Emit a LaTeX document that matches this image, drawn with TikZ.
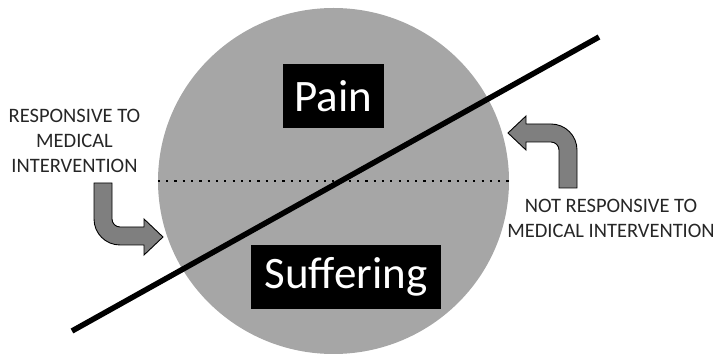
\documentclass[tikz,border=0pt]{standalone}
\usepackage{fontspec}
\setmainfont{Carlito}
\usetikzlibrary{shapes.geometric}
\definecolor{circgray}{HTML}{A6A6A6}
\definecolor{arrowgray}{HTML}{7F7F7F}

\begin{document}
\begin{tikzpicture}[x=1pt, y=-1pt,
    termbox/.style={rectangle, fill=black, text=white, inner sep=0pt, minimum height=64pt, font=\fontsize{45}{50}\selectfont},
    sidelabel/.style={align=center, inner sep=0pt, text=black!85, font=\fontsize{20.5}{25}\selectfont},
    bentarrow/.style={draw=black, line width=0.9pt, fill=arrowgray, line join=miter}]
  \useasboundingbox (0,0) rectangle (718,355);

  % Nodes
  \node[ellipse, fill=circgray, inner sep=0pt, minimum width=351pt, minimum height=346pt] (circ) at (333.5,181) {};
  \node[termbox, minimum width=101pt] (pain) at (333.5,96) {Pain};
  \node[termbox, minimum width=190pt] (suff) at (346,277) {Suffering};
  \node[sidelabel] (resp) at (74.5,141) {RESPONSIVE TO\\MEDICAL\\INTERVENTION};
  \node[sidelabel] (notresp) at (611,218) {NOT RESPONSIVE TO\\MEDICAL INTERVENTION};
  \coordinate (lo) at (72,331);
  \coordinate (hi) at (599,37);

  % Edges
  \draw[line width=2.2pt, dash pattern=on 2.2pt off 6.1pt] (circ.west) -- (circ.east);
  \draw[line width=5.5pt] (lo) -- (hi);

  % Bent arrows
  \filldraw[bentarrow] (94,183) -- (112,183) -- (112,219) arc[start angle=180, end angle=90, radius=8]
    -- (144,227) -- (144,219) -- (163,237) -- (144,255) -- (144,245) -- (120,245)
    arc[start angle=90, end angle=180, radius=26] -- cycle;
  \filldraw[bentarrow] (577,188) -- (559,188) -- (559,150) arc[start angle=0, end angle=-90, radius=8]
    -- (526,142) -- (526,150) -- (508,133) -- (526,116) -- (526,124) -- (551,124)
    arc[start angle=-90, end angle=0, radius=26] -- cycle;
\end{tikzpicture}
\end{document}
